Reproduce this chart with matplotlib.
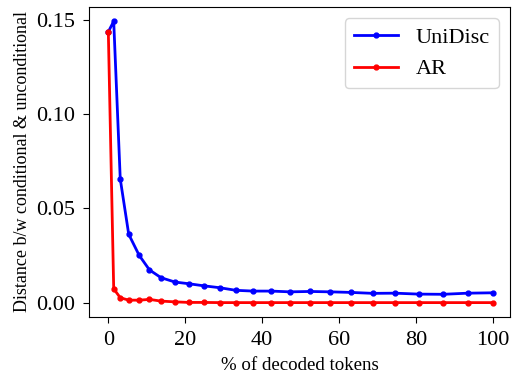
import matplotlib
matplotlib.use("Agg")
import matplotlib.pyplot as plt

plt.rcParams["font.family"] = ["Liberation Serif", "DejaVu Serif"]
plt.rcParams["mathtext.fontset"] = "stix"

# Percentage of tokens decoded at each step
decoded_pct = [0, 1.4, 3.1, 5.3, 8.0, 10.7, 13.7, 17.3, 20.9, 24.8, 28.9, 33.2,
               37.7, 42.3, 47.2, 52.4, 57.7, 63.0, 68.8, 74.5, 80.7, 87.0, 93.5, 100]

# Distance between conditional and unconditional predictions
unidisc = [0.1435, 0.1491, 0.0656, 0.0363, 0.0252, 0.0174, 0.0133, 0.0110, 0.0101,
           0.0090, 0.0080, 0.0066, 0.0062, 0.0062, 0.0058, 0.0060, 0.0058, 0.0055,
           0.0050, 0.0051, 0.0046, 0.0045, 0.0051, 0.0053]
ar = [0.1435, 0.0074, 0.0027, 0.0014, 0.0014, 0.0018, 0.0009, 0.0005, 0.0002,
      0.0002, 0.0001, 0.0001, 0.0001, 0.0001, 0.0001, 0.0001, 0.0001, 0.0001,
      0.0001, 0.0001, 0.0001, 0.0001, 0.0001, 0.0001]

fig = plt.figure(figsize=(5.12, 3.77), dpi=100)
ax = fig.add_axes([0.174, 0.16, 0.822, 0.821])

ax.plot(decoded_pct, unidisc, color="blue", lw=2, marker="o", markersize=3.5, label="UniDisc")
ax.plot(decoded_pct, ar, color="red", lw=2, marker="o", markersize=3.5, label="AR")

ax.set_xlim(-5, 104.4)
ax.set_xticks([0, 20, 40, 60, 80, 100])
ax.set_yticks([0.00, 0.05, 0.10, 0.15])
ax.tick_params(labelsize=16, length=4.5)
ax.tick_params(axis="x", pad=5.5)
ax.tick_params(axis="y", pad=5.5)
ax.set_xlabel("% of decoded tokens", fontsize=13.6, labelpad=5)
ax.set_ylabel("Distance b/w conditional & unconditional", fontsize=13)
ax.legend(loc="upper right", fontsize=16)

fig.savefig("out.png", dpi=100)
